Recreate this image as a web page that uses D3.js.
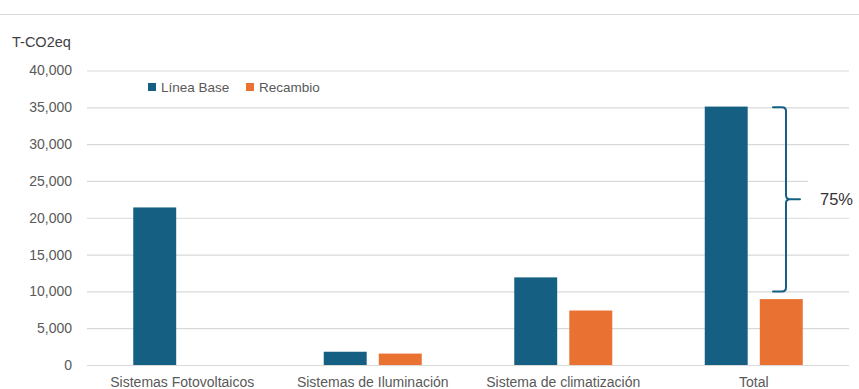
<!DOCTYPE html>
<html>
<head>
<meta charset="utf-8">
<script src="https://cdn.jsdelivr.net/npm/d3@7"></script>
<style>
  html, body { margin: 0; padding: 0; background: #fff; }
  svg { display: block; font-family: "Liberation Sans", Arial, sans-serif; }
</style>
</head>
<body>
<svg id="chart" width="859" height="389"></svg>
<script>
// Emisiones (T-CO2eq) por sistema: línea base vs. recambio
const categories = ["Sistemas Fotovoltaicos", "Sistemas de Iluminación", "Sistema de climatización", "Total"];
const seriesNames = ["Línea Base", "Recambio"];
const lineaBase = [21400, 1800, 11900, 35100];
const recambio = [0, 1550, 7400, 8950];
const yTicks = [0, 5000, 10000, 15000, 20000, 25000, 30000, 35000, 40000];
const reductionLabel = "75%";
const unitLabel = "T-CO2eq";

const colors = { "Línea Base": "#156082", "Recambio": "#E97132" };
const textColor = "#595959";
const gridColor = "#d9d9d9";

const svg = d3.select("#chart");
const W = 859;

const plot = { left: 87, right: 849, top: 70.5, bottom: 365 };

const x0 = d3.scaleBand().domain(categories).range([plot.left, plot.right]).padding(0);
const groupW = 98;
const x1 = d3.scaleBand().domain(seriesNames)
  .range([(x0.bandwidth() - groupW) / 2, (x0.bandwidth() + groupW) / 2])
  .paddingInner(0.22).paddingOuter(0);
const y = d3.scaleLinear().domain([0, 40000]).range([plot.bottom, plot.top]);

// top separator line
svg.append("line")
  .attr("x1", 0).attr("x2", W).attr("y1", 14.5).attr("y2", 14.5)
  .attr("stroke", gridColor).attr("stroke-width", 1.2);

// gridlines + y labels via axis
const yAxis = d3.axisLeft(y).tickValues(yTicks)
  .tickSize(-(plot.right - plot.left))
  .tickFormat(d3.format(","))
  .tickPadding(15);
const gy = svg.append("g").attr("transform", `translate(${plot.left},0)`).call(yAxis);
gy.select(".domain").remove();
gy.selectAll(".tick line").attr("stroke", gridColor).attr("stroke-width", 1.2);
gy.selectAll(".tick text")
  .attr("fill", textColor).attr("font-size", 14)
  .attr("font-family", "'Liberation Sans', Arial, sans-serif");

// unit label
svg.append("text").attr("x", 12).attr("y", 47)
  .attr("fill", "#404040").attr("font-size", 14.5).text(unitLabel);

// bars
const rows = categories.map((c, i) => ({ cat: c, values: [
  { key: "Línea Base", value: lineaBase[i] },
  { key: "Recambio", value: recambio[i] }
]}));

const groups = svg.append("g").selectAll("g").data(rows).join("g")
  .attr("transform", d => `translate(${x0(d.cat)},0)`);
groups.selectAll("rect").data(d => d.values.filter(v => v.value > 0)).join("rect")
  .attr("x", d => x1(d.key))
  .attr("width", x1.bandwidth())
  .attr("y", d => y(d.value))
  .attr("height", d => y(0) - y(d.value))
  .attr("fill", d => colors[d.key]);

// x category labels
const xAxis = d3.axisBottom(x0).tickSize(0).tickPadding(12);
const gx = svg.append("g").attr("transform", `translate(0,${plot.bottom})`).call(xAxis);
gx.select(".domain").remove();
gx.selectAll(".tick text")
  .attr("fill", textColor).attr("font-size", 14)
  .attr("font-family", "'Liberation Sans', Arial, sans-serif");

// legend
const legend = svg.append("g").attr("transform", "translate(148,83)");
const legendX = [0, 98];
seriesNames.forEach((s, i) => {
  const g = legend.append("g").attr("transform", `translate(${legendX[i]},0)`);
  g.append("rect").attr("width", 8).attr("height", 8).attr("fill", colors[s]);
  g.append("text").attr("x", 13).attr("y", 8.5)
    .attr("fill", textColor).attr("font-size", 13.5).text(s);
});

// reduction brace on the Total group
const totalIdx = categories.length - 1;
const yTop = y(35000), yBot = y(10000);
const yMid = (yTop + yBot) / 2;
const bx = 786, curl = 13, r = 4, tip = 14;
const brace = d3.path();
brace.moveTo(bx - curl, yTop);
brace.lineTo(bx - r, yTop);
brace.quadraticCurveTo(bx, yTop, bx, yTop + r);
brace.lineTo(bx, yMid - r);
brace.quadraticCurveTo(bx, yMid, bx + r, yMid);
brace.lineTo(bx + tip, yMid);
brace.moveTo(bx + r, yMid);
brace.quadraticCurveTo(bx, yMid, bx, yMid + r);
brace.lineTo(bx, yBot - r);
brace.quadraticCurveTo(bx, yBot, bx - r, yBot);
brace.lineTo(bx - curl, yBot);
svg.append("path").attr("d", brace.toString())
  .attr("fill", "none").attr("stroke", colors["Línea Base"])
  .attr("stroke-width", 2).attr("stroke-linecap", "round");

// percentage label with white box
svg.append("rect").attr("x", 808).attr("y", yMid - 22).attr("width", 51).attr("height", 40)
  .attr("fill", "#fff");
svg.append("text").attr("x", 820).attr("y", yMid + 6)
  .attr("fill", "#333").attr("font-size", 16.5).text(reductionLabel);
</script>
</body>
</html>
